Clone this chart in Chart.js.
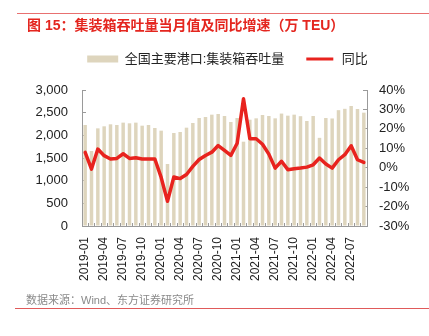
<!DOCTYPE html>
<html><head><meta charset="utf-8">
<script src="https://cdn.jsdelivr.net/npm/chart.js@4"></script>
<style>
html,body{margin:0;padding:0;background:#fff;width:429px;height:336px;overflow:hidden;font-family:"Liberation Sans","Noto Sans CJK SC",sans-serif}
#wrap{position:relative;width:429px;height:336px}
canvas{position:absolute;left:0;top:0}
.topline{position:absolute;left:17px;top:13px;width:412px;height:1px;background:#e87070}
.title{position:absolute;left:27px;top:17px;font-size:14px;font-weight:bold;color:#e4261f;white-space:nowrap;line-height:16px}
.source{position:absolute;left:26px;top:293px;font-size:11px;color:#8a8a8a;white-space:nowrap;line-height:14px}
.botline{position:absolute;left:15px;top:308px;width:414px;height:1px;background:#e05a5a}
</style>
</head><body>
<div id="wrap">
<canvas id="c" width="429" height="336"></canvas>
<div class="topline"></div>
<div class="title">图 15：集装箱吞吐量当月值及同比增速（万 TEU）</div>
<div class="source">数据来源：Wind、东方证券研究所</div>
<div class="botline"></div>
</div>
<script>
const months = ['2019-01','2019-02','2019-03','2019-04','2019-05','2019-06','2019-07','2019-08','2019-09','2019-10','2019-11','2019-12',
'2020-01','2020-02','2020-03','2020-04','2020-05','2020-06','2020-07','2020-08','2020-09','2020-10','2020-11','2020-12',
'2021-01','2021-02','2021-03','2021-04','2021-05','2021-06','2021-07','2021-08','2021-09','2021-10','2021-11','2021-12',
'2022-01','2022-02','2022-03','2022-04','2022-05','2022-06','2022-07','2022-08','2022-09'];
const throughput = [2228,1654,2154,2199,2243,2228,2280,2265,2280,2213,2228,2162,
2103,1368,2051,2074,2169,2272,2382,2404,2456,2471,2426,2294,
2382,1860,2345,2375,2449,2426,2375,2480,2434,2456,2422,2316,
2426,1945,2382,2372,2555,2585,2647,2581,2500];
const yoy = [7.9,-0.7,9.6,6.2,4.5,4.8,7.2,4.8,5.1,4.5,4.5,4.5,
-5.0,-17.3,-4.8,-5.6,-3.5,0.7,4.2,6.3,8.0,11.4,8.9,6.3,
12.6,35.5,14.9,14.9,12.1,7.0,-0.2,3.3,-1.0,-0.5,-0.2,0.3,
1.5,5.0,1.9,-0.2,4.1,6.7,11.3,4.1,2.7];
const seriesNames = ['全国主要港口:集装箱吞吐量','同比'];
const leftTicks = {min:0, max:3000, step:500};
const rightTicks = {min:-30, max:40, step:10};

Chart.defaults.font.family = "'Liberation Sans','Noto Sans CJK SC',sans-serif";
Chart.defaults.color = '#222';
const AXIS = '#9a9a9a';
const BAR = 'rgb(222,213,189)';
const RED = '#e8231e';

const legendPad = {
  id:'legendPad',
  beforeInit(chart){
    const orig = chart.legend.fit;
    chart.legend.fit = function(){ orig.bind(chart.legend)(); this.height += 14.5; };
  }
};

new Chart(document.getElementById('c'), {
  data:{
    labels: months,
    datasets:[
      {type:'bar', label:seriesNames[0], data:throughput, backgroundColor:BAR, yAxisID:'y', order:2,
       barPercentage:0.55, categoryPercentage:1},
      {type:'line', label:seriesNames[1], data:yoy, borderColor:RED, backgroundColor:RED, borderWidth:3.5,
       borderJoinStyle:'round', borderCapStyle:'round',
       pointRadius:0, tension:0, yAxisID:'y1', order:1}
    ]
  },
  plugins:[legendPad],
  options:{
    responsive:false, animation:false, devicePixelRatio:1,
    layout:{padding:{top:32.5,left:26,right:0,bottom:0}},
    plugins:{
      tooltip:{enabled:false},
      legend:{
        position:'top', fullSize:true,
        labels:{
          boxWidth:31, boxHeight:7, padding:20, color:'#222', font:{size:13},
          generateLabels(chart){
            return chart.data.datasets.map((ds,i)=>({
              text:ds.label, datasetIndex:i,
              fillStyle: ds.type==='line'? ds.borderColor : ds.backgroundColor,
              strokeStyle:'#ffffff', lineWidth: ds.type==='line'? 4 : 0,
              hidden:!chart.isDatasetVisible(i), fontColor:'#222'
            }));
          }
        }
      }
    },
    scales:{
      x:{
        offset:true,
        grid:{drawOnChartArea:false, drawTicks:true, tickLength:-3, color:AXIS, offset:true},
        border:{color:AXIS},
        ticks:{autoSkip:false, maxRotation:90, minRotation:90, padding:14, font:{size:12}, color:'#222',
          callback(v,i){ return i%3===0 ? this.getLabelForValue(v) : ''; }},
        afterFit(s){ s.height = 110; }
      },
      y:{
        position:'left', min:leftTicks.min, max:leftTicks.max,
        grid:{drawOnChartArea:false, drawTicks:true, tickLength:-4, color:AXIS},
        border:{color:AXIS},
        ticks:{stepSize:leftTicks.step, autoSkip:false, padding:18, font:{size:13}, color:'#222',
          callback(v){ return v.toLocaleString('en-US'); }},
        afterFit(s){ s.width = 56; }
      },
      y1:{
        position:'right', min:rightTicks.min, max:rightTicks.max,
        grid:{drawOnChartArea:false, drawTicks:true, tickLength:-4, color:AXIS},
        border:{color:AXIS},
        ticks:{stepSize:rightTicks.step, autoSkip:false, padding:16, font:{size:13}, color:'#222',
          callback(v){ return v + '%'; }},
        afterFit(s){ s.width = 62; }
      }
    }
  }
});
</script>
</body></html>
